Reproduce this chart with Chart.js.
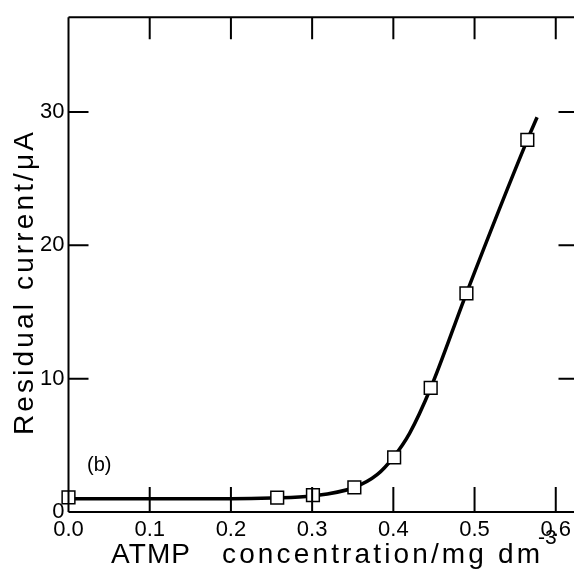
<!DOCTYPE html>
<html>
<head>
<meta charset="utf-8">
<script src="https://cdn.jsdelivr.net/npm/chart.js@4.4.1/dist/chart.umd.min.js"></script>
<style>
  html, body { margin: 0; padding: 0; background: #fff; overflow: hidden; }
  #wrap { width: 574px; height: 570px; overflow: hidden; position: relative; }
  canvas { position: absolute; left: 0; top: 0; }
</style>
</head>
<body>
<div id="wrap"><canvas id="c" width="590" height="570"></canvas></div>
<script>
// Measured points (ATMP concentration / mg dm^-3, residual current / µA)
const concX    = [0.0, 0.257, 0.301, 0.352, 0.401, 0.446, 0.490, 0.565];
const currentY = [1.1, 1.07, 1.27, 1.84, 4.1, 9.3, 16.4, 27.9];

// Fitted curve as drawn in the figure
const curveX = [0.0, 0.1, 0.2, 0.25, 0.3, 0.35, 0.38, 0.4, 0.42, 0.446, 0.49, 0.565, 0.577];
const curveY = [1.0, 1.0, 1.0, 1.05, 1.2, 1.8, 2.8, 4.1, 5.9, 9.3, 16.4, 27.9, 29.6];

const xTicks = [0.0, 0.1, 0.2, 0.3, 0.4, 0.5, 0.6];
const yTicks = [0, 10, 20, 30];

const xTitleMain = "ATMP";
const xTitleRest = "concentration/mg dm";
const xTitleSup = "-3";
const yTitle = "Residual current/\u03BCA";
const panelLabel = "(b)";

const FONT = "'Liberation Sans', Arial, sans-serif";

function spacedText(ctx, text, x, y, targetWidth) {
  ctx.letterSpacing = '0px';
  const w = ctx.measureText(text).width;
  const n = Math.max(1, text.length - 1);
  const sp = Math.max(0, (targetWidth - w) / n);
  ctx.letterSpacing = sp.toFixed(2) + 'px';
  ctx.fillText(text, x, y);
  ctx.letterSpacing = '0px';
}

const framePlugin = {
  id: 'frame',
  afterDraw(chart) {
    const ctx = chart.ctx;
    const a = chart.chartArea;
    const xs = chart.scales.x, ys = chart.scales.y;
    ctx.save();
    ctx.strokeStyle = '#000';
    ctx.lineWidth = 2;
    ctx.beginPath();
    ctx.moveTo(a.left, a.top); ctx.lineTo(a.right, a.top);
    ctx.moveTo(a.left, a.top); ctx.lineTo(a.left, a.bottom);
    ctx.moveTo(a.left, a.bottom); ctx.lineTo(a.right, a.bottom);
    ctx.moveTo(a.right, a.top); ctx.lineTo(a.right, a.bottom);
    xTicks.forEach(v => {
      if (v === 0) return;
      const px = xs.getPixelForValue(v);
      ctx.moveTo(px, a.top); ctx.lineTo(px, a.top + 22);
      ctx.moveTo(px, a.bottom); ctx.lineTo(px, a.bottom - 25);
    });
    yTicks.forEach(v => {
      if (v === 0) return;
      const py = ys.getPixelForValue(v);
      ctx.moveTo(a.left, py); ctx.lineTo(a.left + 20, py);
      ctx.moveTo(a.right, py); ctx.lineTo(a.right - 20, py);
    });
    ctx.stroke();

    ctx.fillStyle = '#000';
    // panel label
    ctx.font = '20px ' + FONT;
    ctx.textAlign = 'left';
    ctx.textBaseline = 'middle';
    ctx.fillText(panelLabel, 87, 465);

    // x title
    ctx.textBaseline = 'alphabetic';
    ctx.font = '28px ' + FONT;
    spacedText(ctx, xTitleMain, 111, 563, 79);
    spacedText(ctx, xTitleRest, 222, 563, 318);
    ctx.font = '21px ' + FONT;
    ctx.fillText(xTitleSup, 538, 544);

    // y title
    ctx.translate(33, 283);
    ctx.rotate(-Math.PI / 2);
    ctx.textAlign = 'left';
    ctx.font = '28px ' + FONT;
    spacedText(ctx, yTitle, -152, 0, 303);
    ctx.restore();
  }
};

new Chart(document.getElementById('c'), {
  type: 'scatter',
  data: {
    datasets: [
      {
        label: 'measured',
        data: concX.map((x, i) => ({ x: x, y: currentY[i] })),
        showLine: false,
        pointStyle: 'rect',
        pointRadius: 9,
        pointHoverRadius: 9,
        pointBackgroundColor: '#fff',
        pointBorderColor: '#000',
        pointBorderWidth: 1.5,
        clip: false
      },
      {
        label: 'fit',
        data: curveX.map((x, i) => ({ x: x, y: curveY[i] })),
        showLine: true,
        borderColor: '#000',
        borderWidth: 3.5,
        pointRadius: 0,
        cubicInterpolationMode: 'monotone',
        fill: false,
        clip: false
      }
    ]
  },
  options: {
    responsive: false,
    animation: false,
    devicePixelRatio: 1,
    layout: { padding: { left: 0, top: 15, right: 11.5, bottom: 0 } },
    plugins: { legend: { display: false }, tooltip: { enabled: false } },
    scales: {
      x: {
        type: 'linear',
        min: 0, max: 0.628,
        afterFit: s => { s.height = 58; },
        afterBuildTicks: s => { s.ticks = xTicks.map(v => ({ value: v })); },
        grid: { display: false, drawTicks: false },
        border: { display: false },
        ticks: {
          padding: 5,
          color: '#000',
          font: { family: FONT, size: 22 },
          callback: v => Number(v).toFixed(1),
          maxRotation: 0,
          autoSkip: false
        }
      },
      y: {
        type: 'linear',
        min: 0, max: 37.1,
        afterFit: s => { s.width = 68.5; },
        afterBuildTicks: s => { s.ticks = yTicks.map(v => ({ value: v })); },
        grid: { display: false, drawTicks: false },
        border: { display: false },
        ticks: {
          padding: 4,
          color: '#000',
          font: { family: FONT, size: 22 },
          callback: v => String(v),
          autoSkip: false
        }
      }
    }
  },
  plugins: [framePlugin]
});
</script>
</body>
</html>
